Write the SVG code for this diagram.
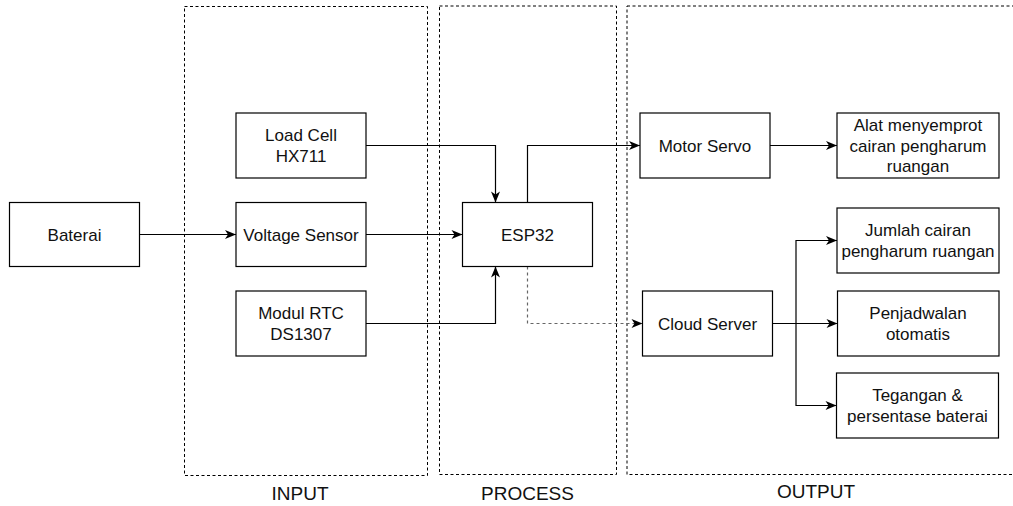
<svg xmlns="http://www.w3.org/2000/svg" width="1013" height="506" viewBox="0 0 1013 506">
<style>
.box{fill:#fff;stroke:#000;stroke-width:1.2}
.grp{fill:none;stroke:#000;stroke-width:1;stroke-dasharray:3 2.5}
.t{font-family:"Liberation Sans",Arial,sans-serif;font-size:17px;fill:#111;text-anchor:middle}
.lbl{font-family:"Liberation Sans",Arial,sans-serif;font-size:19px;fill:#111;text-anchor:middle}
.c{fill:none;stroke:#000;stroke-width:1.2;marker-end:url(#arr)}
.cd{fill:none;stroke:#666;stroke-width:1.2;stroke-dasharray:3 3;marker-end:url(#arr)}
</style>
<defs>
<marker id="arr" markerUnits="userSpaceOnUse" markerWidth="13" markerHeight="12" refX="12" refY="6" orient="auto">
<path d="M1,1.5 L12,6 L1,10.5 L4,6 Z" fill="#000"/>
</marker>
</defs>
<rect width="1013" height="506" fill="#fff"/>
<g id="containers">
<rect id="input-area" class="grp" x="184.5" y="6.5" width="243" height="469"/>
<rect id="process-area" class="grp" x="439.5" y="6" width="177" height="468.5"/>
<rect id="output-area" class="grp" x="627" y="6" width="390" height="468.5"/>
<text class="lbl" x="300" y="500">INPUT</text>
<text class="lbl" x="527.5" y="500">PROCESS</text>
<text class="lbl" x="816" y="497.5">OUTPUT</text>
</g>
<g id="connectors">
<path class="c" d="M139.5,234.5 H236"/>
<path class="c" d="M366,145.5 H495.5 V202.5"/>
<path class="c" d="M366,234.5 H462.5"/>
<path class="c" d="M366,323.5 H495.5 V266.5"/>
<path class="c" d="M527.5,202.5 V145.5 H640"/>
<path class="cd" d="M527.5,266.5 V323.5 H642.5"/>
<path class="c" d="M770,145.5 H837"/>
<path class="c" d="M772.5,323.5 H796 V240.5 H837"/>
<path class="c" d="M772.5,323.5 H837.5"/>
<path class="c" d="M796,323.5 V405.5 H836.5"/>
</g>
<g id="baterai"><rect class="box" x="9.5" y="202.5" width="130" height="64"/><text class="t" x="74.5" y="240.5">Baterai</text></g>
<g id="load-cell"><rect class="box" x="236" y="113" width="130" height="65"/><text class="t" x="301" y="141">Load Cell</text><text class="t" x="301" y="162">HX711</text></g>
<g id="voltage-sensor"><rect class="box" x="236" y="202.5" width="130" height="64"/><text class="t" x="301" y="240.5">Voltage Sensor</text></g>
<g id="modul-rtc"><rect class="box" x="236" y="291" width="130" height="65"/><text class="t" x="301" y="319">Modul RTC</text><text class="t" x="301" y="340">DS1307</text></g>
<g id="esp32"><rect class="box" x="462.5" y="202.5" width="130" height="64"/><text class="t" x="527.5" y="240.5">ESP32</text></g>
<g id="motor-servo"><rect class="box" x="640" y="113" width="130" height="65"/><text class="t" x="705" y="151.5">Motor Servo</text></g>
<g id="cloud-server"><rect class="box" x="642.5" y="291" width="130" height="65"/><text class="t" x="707.5" y="329.5">Cloud Server</text></g>
<g id="alat"><rect class="box" x="837" y="113" width="162" height="65"/><text class="t" x="918" y="131">Alat menyemprot</text><text class="t" x="918" y="151.5">cairan pengharum</text><text class="t" x="918" y="172">ruangan</text></g>
<g id="jumlah"><rect class="box" x="837" y="208" width="162" height="65"/><text class="t" x="918" y="236">Jumlah cairan</text><text class="t" x="918" y="257">pengharum ruangan</text></g>
<g id="penjadwalan"><rect class="box" x="837.5" y="291" width="161.5" height="65"/><text class="t" x="918" y="319">Penjadwalan</text><text class="t" x="918" y="340">otomatis</text></g>
<g id="tegangan"><rect class="box" x="836.5" y="373" width="162" height="65"/><text class="t" x="917.5" y="401">Tegangan &amp;</text><text class="t" x="917.5" y="422">persentase baterai</text></g>
</svg>
